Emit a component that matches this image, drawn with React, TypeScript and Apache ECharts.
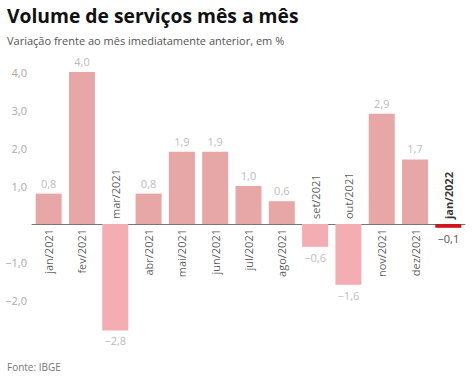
import React, { useEffect, useRef } from "react";
import * as echarts from "echarts";

const categories = [
  "jan/2021", "fev/2021", "mar/2021", "abr/2021", "mai/2021", "jun/2021", "jul/2021",
  "ago/2021", "set/2021", "out/2021", "nov/2021", "dez/2021", "jan/2022",
];
const values = [0.8, 4.0, -2.8, 0.8, 1.9, 1.9, 1.0, 0.6, -0.6, -1.6, 2.9, 1.7, -0.1];
const highlightIndex = 12;
const yTicks = [-3, -2, -1, 0, 1, 2, 3, 4];

const FONT = "'Open Sans', 'Noto Sans', sans-serif";
const fmt = (v: number) => v.toFixed(1).replace(".", ",").replace("-", "\u2212");

export default function App() {
  const ref = useRef<HTMLDivElement>(null);
  useEffect(() => {
    if (!ref.current) return;
    const chart = echarts.init(ref.current, undefined, { renderer: "svg" });
    const barData = values.map((v, i) => {
      const hl = i === highlightIndex;
      const color = hl ? "#d0141a" : v >= 0 ? "#e8a7a7" : "#f4adb2";
      return {
        value: v,
        itemStyle: { color },
        label: {
          show: true,
          position: v >= 0 ? "top" : "bottom",
          distance: 5,
          formatter: () => fmt(v),
          color: hl ? "#555" : "#bdbdbd",
          fontSize: 11,
          fontFamily: FONT,
        },
      };
    });
    const catData = categories.map((c, i) => {
      const pos = values[i] >= 0;
      const hl = i === highlightIndex;
      return {
        value: [i, 0],
        label: {
          show: true,
          formatter: c,
          rotate: 90,
          position: pos ? "bottom" : "top",
          align: pos ? "right" : "left",
          verticalAlign: "middle",
          distance: 5,
          color: hl ? "#000" : "#333",
          fontWeight: hl ? "bold" : "normal",
          fontSize: 11,
          fontFamily: FONT,
        },
      };
    });
    chart.setOption({
      animation: false,
      grid: { left: 32, right: 9, top: 72, bottom: 44, containLabel: false },
      graphic: [
        {
          type: "text",
          left: 7,
          top: 6,
          style: {
            text: "Volume de serviços mês a mês",
            font: `bold 19.3px ${FONT}`,
            fill: "#111",
          },
        },
        {
          type: "text",
          left: 7,
          top: 35,
          style: {
            text: "Variação frente ao mês imediatamente anterior, em %",
            font: `11px ${FONT}`,
            fill: "#555",
          },
        },
        {
          type: "text",
          left: 7,
          top: 362,
          style: { text: "Fonte: IBGE", font: `10px ${FONT}`, fill: "#777" },
        },
      ],
      xAxis: {
        type: "category",
        data: categories,
        axisLine: { onZero: true, lineStyle: { color: "#777", width: 1 } },
        axisTick: { show: false },
        axisLabel: { show: false },
      },
      yAxis: {
        type: "value",
        min: yTicks[0],
        max: yTicks[yTicks.length - 1],
        interval: 1,
        splitLine: { show: false },
        axisLine: { show: false },
        axisTick: { show: false },
        axisLabel: {
          margin: 5,
          color: "#aaa",
          fontSize: 11,
          fontFamily: FONT,
          formatter: (v: number) => (v === 0 || v === yTicks[0] ? "" : fmt(v)),
        },
      },
      series: [
        {
          type: "bar",
          data: barData,
          barWidth: 26,
        },
        {
          type: "scatter",
          data: catData,
          symbolSize: 0,
          silent: true,
          z: 5,
        },
      ],
    });
    return () => chart.dispose();
  }, []);
  return <div ref={ref} style={{ width: 474, height: 382, position: "absolute", left: 0, top: 0, background: "#fff" }} />;
}
